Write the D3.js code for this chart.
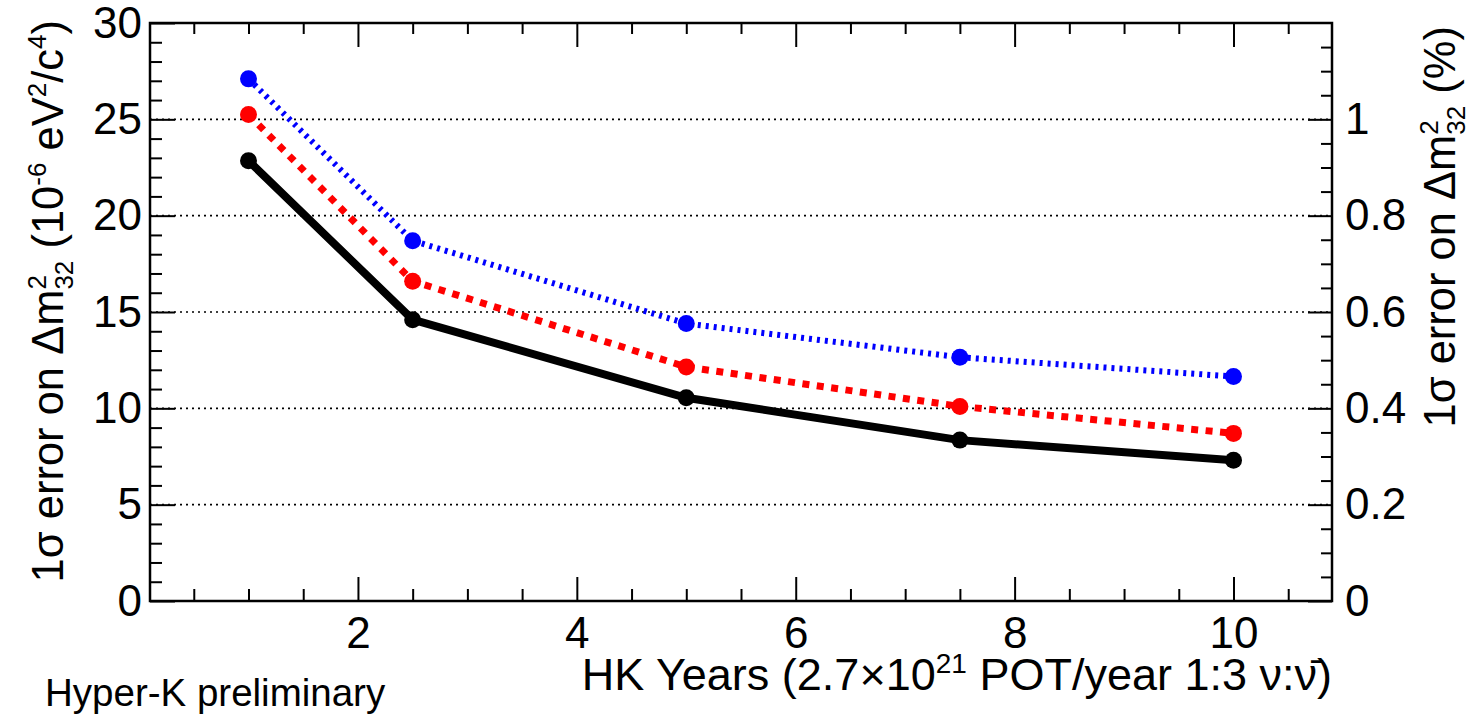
<!DOCTYPE html>
<html>
<head>
<meta charset="utf-8">
<script src="https://cdn.jsdelivr.net/npm/d3@7"></script>
<style>
  body { margin: 0; background: #fff; }
  svg { display: block; }
  text { font-family: "Liberation Sans", Arial, Helvetica, sans-serif; fill: #000; }
</style>
</head>
<body>
<div id="chart"></div>
<script>
// values
const years = [1, 2.5, 5, 7.5, 10];
const errBlue = [27.1, 18.7, 14.4, 12.65, 11.65];
const errRed = [25.25, 16.6, 12.15, 10.1, 8.7];
const errBlack = [22.85, 14.6, 10.55, 8.35, 7.3];

const xTicks = [2, 4, 6, 8, 10];
const yTicks = [0, 5, 10, 15, 20, 25, 30];
const yRightTicks = [0, 0.2, 0.4, 0.6, 0.8, 1];
const gridValues = [5, 10, 15, 20, 25];

document.addEventListener('DOMContentLoaded', function() {
    const W = 1470, H = 715;
    const frame = {left: 150, right: 1332, top: 23, bottom: 601};

    const svg = d3.select('#chart')
        .append('svg')
        .attr('width', W)
        .attr('height', H);

    // Scales (ROOT style: 10% padding around 1..10)
    const x = d3.scaleLinear().domain([0.1, 10.9]).range([frame.left, frame.right]);
    const y = d3.scaleLinear().domain([0, 30]).range([frame.bottom, frame.top]);
    const yR = d3.scaleLinear().domain([0, 1.2]).range([frame.bottom, frame.top]);

    const minorX = d3.range(0.5, 10.9, 0.5).filter(v => !xTicks.includes(v));
    const minorY = d3.range(1, 30, 1).filter(v => v % 5 !== 0);
    const minorYR = d3.range(0.05, 1.2, 0.05).filter(v => Math.abs(v * 5 - Math.round(v * 5)) > 1e-6);

    // dotted grid lines
    svg.append('g')
        .selectAll('line')
        .data(gridValues)
        .enter()
        .append('line')
        .attr('x1', frame.left)
        .attr('x2', frame.right)
        .attr('y1', d => y(d))
        .attr('y2', d => y(d))
        .attr('stroke', '#000')
        .attr('stroke-width', 1.6)
        .attr('stroke-dasharray', '2 4');

    // helper to make an inward axis
    function addAxis(axis, tx, ty, cls) {
        const g = svg.append('g')
            .attr('class', cls)
            .attr('transform', `translate(${tx},${ty})`)
            .call(axis);
        g.select('.domain').remove();
        g.selectAll('.tick line').attr('stroke', '#000').attr('stroke-width', 2);
        return g;
    }

    const labelSize = '44px';

    // bottom axis
    const gx = addAxis(d3.axisBottom(x).tickValues(xTicks).tickSize(-24).tickPadding(16)
        .tickFormat(d3.format('d')), 0, frame.bottom, 'x-axis');
    gx.selectAll('text').style('font-size', labelSize).attr('fill', '#000');
    addAxis(d3.axisBottom(x).tickValues(minorX).tickSize(-12).tickFormat(''), 0, frame.bottom, 'x-minor');

    // top axis (ticks only)
    addAxis(d3.axisTop(x).tickValues(xTicks).tickSize(-24).tickFormat(''), 0, frame.top, 'x-top');
    addAxis(d3.axisTop(x).tickValues(minorX).tickSize(-11).tickFormat(''), 0, frame.top, 'x-top-minor');

    // left axis
    const gy = addAxis(d3.axisLeft(y).tickValues(yTicks).tickSize(-25).tickPadding(8)
        .tickFormat(d3.format('d')), frame.left, 0, 'y-axis');
    gy.selectAll('text').style('font-size', labelSize).attr('fill', '#000');
    addAxis(d3.axisLeft(y).tickValues(minorY).tickSize(-12).tickFormat(''), frame.left, 0, 'y-minor');

    // right axis (percent)
    const gyr = addAxis(d3.axisRight(yR).tickValues(yRightTicks).tickSize(-24).tickPadding(13)
        .tickFormat(d3.format('~g')), frame.right, 0, 'y-right');
    gyr.selectAll('text').style('font-size', labelSize).attr('fill', '#000');
    addAxis(d3.axisRight(yR).tickValues(minorYR).tickSize(-11).tickFormat(''), frame.right, 0, 'y-right-minor');

    // frame
    svg.append('rect')
        .attr('x', frame.left)
        .attr('y', frame.top)
        .attr('width', frame.right - frame.left)
        .attr('height', frame.bottom - frame.top)
        .attr('fill', 'none')
        .attr('stroke', '#000')
        .attr('stroke-width', 2.5);

    // series
    const series = [
        {values: errBlack, color: '#000000', width: 8, dash: null},
        {values: errRed, color: '#ff0000', width: 7, dash: '7 7.5'},
        {values: errBlue, color: '#0000ff', width: 6, dash: '3 5'}
    ];

    const line = d3.line()
        .x(d => x(d[0]))
        .y(d => y(d[1]));

    series.forEach(s => {
        const pts = years.map((yr, i) => [yr, s.values[i]]);
        svg.append('path')
            .datum(pts)
            .attr('fill', 'none')
            .attr('stroke', s.color)
            .attr('stroke-width', s.width)
            .attr('stroke-dasharray', s.dash)
            .attr('d', line);

        svg.selectAll(null)
            .data(pts)
            .enter()
            .append('circle')
            .attr('cx', d => x(d[0]))
            .attr('cy', d => y(d[1]))
            .attr('r', 8.5)
            .attr('fill', s.color);
    });

    // x axis title
    const xt = svg.append('text')
        .attr('x', frame.right)
        .attr('y', 690)
        .attr('text-anchor', 'end')
        .style('font-size', '45px');
    xt.append('tspan').text('HK Years (2.7\u00d710');
    xt.append('tspan').attr('dy', -17).style('font-size', '28px').text('21');
    xt.append('tspan').attr('dy', 17).text(' POT/year 1:3 \u03bd:\u03bd\u0304)');

    // left y title
    const yt = svg.append('text')
        .attr('transform', 'translate(63,20) rotate(-90)')
        .attr('text-anchor', 'end')
        .style('font-size', '43.5px');
    yt.append('tspan').text('1\u03c3 error on \u0394m');
    yt.append('tspan').attr('dy', -17).style('font-size', '26px').text('2');
    yt.append('tspan').attr('dy', 27).attr('dx', -14.5).style('font-size', '26px').text('32');
    yt.append('tspan').attr('dy', -10).text(' (10');
    yt.append('tspan').attr('dy', -17).style('font-size', '26px').text('-6');
    yt.append('tspan').attr('dy', 17).text(' eV');
    yt.append('tspan').attr('dy', -17).style('font-size', '26px').text('2');
    yt.append('tspan').attr('dy', 17).text('/c');
    yt.append('tspan').attr('dy', -17).style('font-size', '26px').text('4');
    yt.append('tspan').attr('dy', 17).text(')');

    // right y title
    const yrt = svg.append('text')
        .attr('transform', 'translate(1455,26) rotate(-90)')
        .attr('text-anchor', 'end')
        .style('font-size', '43.5px');
    yrt.append('tspan').text('1\u03c3 error on \u0394m');
    yrt.append('tspan').attr('dy', -17).style('font-size', '26px').text('2');
    yrt.append('tspan').attr('dy', 27).attr('dx', -14.5).style('font-size', '26px').text('32');
    yrt.append('tspan').attr('dy', -10).text(' (%)');

    // label
    svg.append('text')
        .attr('x', 45)
        .attr('y', 706)
        .style('font-size', '38.5px')
        .text('Hyper-K preliminary');
});
</script>
</body>
</html>
